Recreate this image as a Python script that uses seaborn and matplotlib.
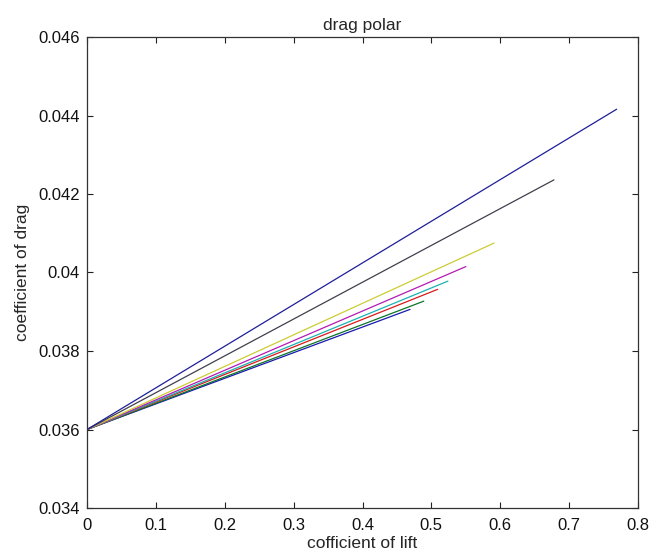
import matplotlib
matplotlib.use("Agg")
import matplotlib.pyplot as plt
import seaborn as sns
import pandas as pd
from matplotlib import font_manager

# ---- data ----
cd0 = 0.036
cl_end = [0.469, 0.489, 0.509, 0.524, 0.550, 0.591, 0.678, 0.769]
cd_end = [0.03906, 0.03927, 0.03957, 0.03978, 0.04015, 0.04075, 0.04236, 0.04416]
series = ["s1", "s2", "s3", "s4", "s5", "s6", "s7", "s8"]
line_colors = [(0.1, 0.1, 0.7), (0.05, 0.45, 0.15), (0.85, 0.1, 0.1), (0.1, 0.7, 0.7),
               (0.7, 0.1, 0.7), (0.8, 0.8, 0.2), (0.25, 0.25, 0.3), (0.12, 0.12, 0.6)]
x_ticks = [0, 0.1, 0.2, 0.3, 0.4, 0.5, 0.6, 0.7, 0.8]
x_ticklabels = ["0", "0.1", "0.2", "0.3", "0.4", "0.5", "0.6", "0.7", "0.8"]
y_ticks = [0.034, 0.036, 0.038, 0.04, 0.042, 0.044, 0.046]
y_ticklabels = ["0.034", "0.036", "0.038", "0.04", "0.042", "0.044", "0.046"]

rows = []
for name, xe, ye in zip(series, cl_end, cd_end):
    rows.append({"series": name, "order": 0, "cl": 0.0, "cd": cd0})
    rows.append({"series": name, "order": 1, "cl": xe, "cd": ye})
df = pd.DataFrame(rows)

sns.set_theme(style="white")
names = {f.name for f in font_manager.fontManager.ttflist}
fam = "Liberation Sans Narrow" if "Liberation Sans Narrow" in names else "Liberation Sans"
plt.rcParams["font.family"] = [fam, "DejaVu Sans"]

fig = plt.figure(figsize=(6.65, 5.59), dpi=100)
ax = fig.add_axes([87 / 665, 1 - 508 / 559, (638 - 87) / 665, (508 - 37) / 559])

sns.lineplot(data=df, x="cl", y="cd", hue="series", units="series",
             estimator=None, sort=False, palette=line_colors,
             linewidth=0.9, legend=False, ax=ax)

ax.set_xlim(0, 0.8)
ax.set_ylim(0.034, 0.046)
ax.set_xticks(x_ticks)
ax.set_xticklabels(x_ticklabels)
ax.set_yticks(y_ticks)
ax.set_yticklabels(y_ticklabels)
ax.tick_params(direction="in", length=4.5, width=0.8, colors="#222222",
               labelcolor="#111111", labelsize=12, top=True, right=True,
               bottom=True, left=True)
ax.tick_params(axis="x", pad=7)
ax.tick_params(axis="y", pad=5)
for s in ax.spines.values():
    s.set_color("#333333")
    s.set_linewidth(0.9)
    s.set_visible(True)

ax.set_xlabel("cofficient of lift", fontsize=12.5, labelpad=2)
ax.set_ylabel("coefficient of drag", fontsize=12.5, labelpad=6)
ax.set_title("drag polar", fontsize=12.5, pad=5)
ax.grid(False)

fig.savefig("out.png", dpi=100, facecolor="white")
